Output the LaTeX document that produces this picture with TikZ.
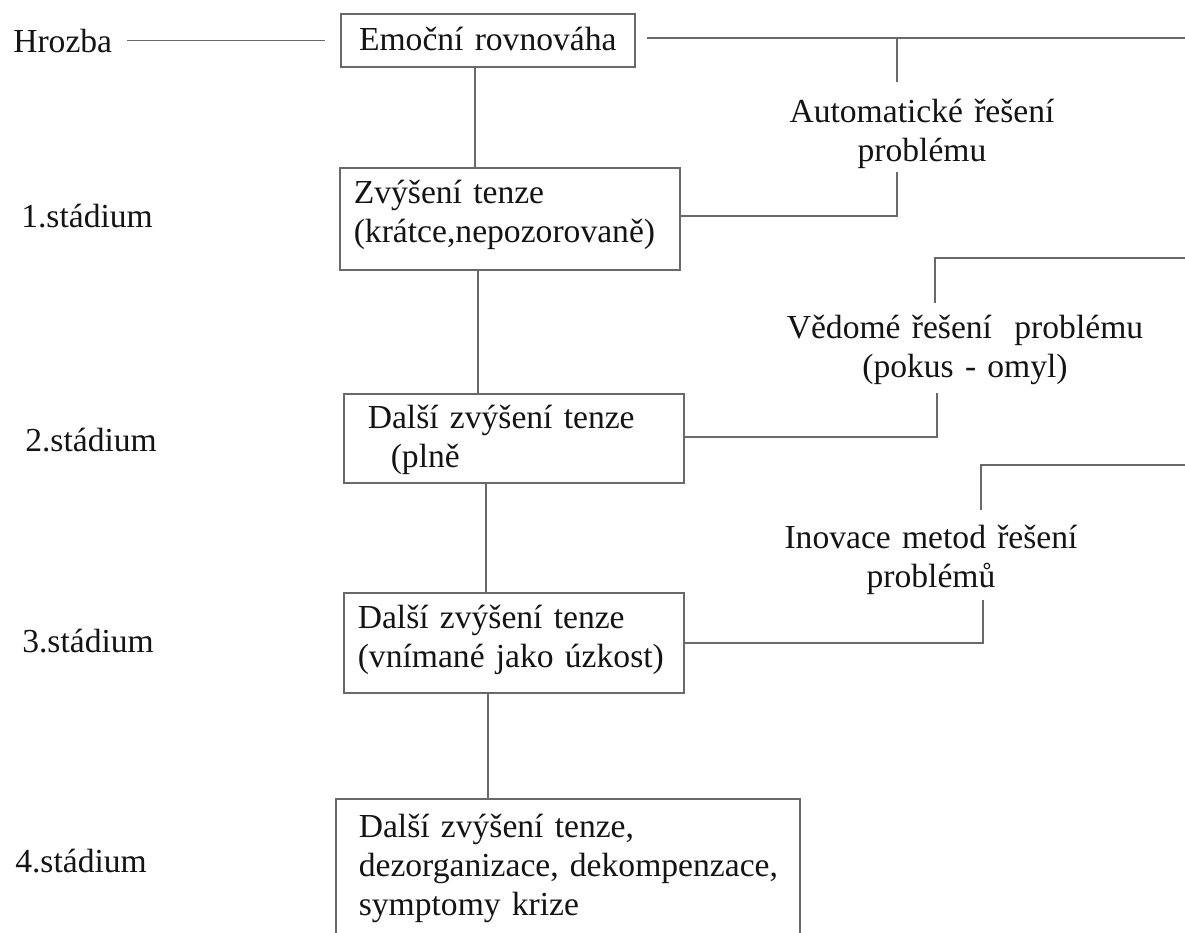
\documentclass[tikz,border=0pt]{standalone}
\usepackage{fontspec}
\setmainfont{Liberation Serif}
\definecolor{linegray}{RGB}{105,105,105}
\definecolor{textblack}{RGB}{20,20,20}
\newcommand\dfont{\fontsize{25.2pt}{29.25pt}\selectfont}
\begin{document}
\begin{tikzpicture}[x=0.75pt,y=-0.75pt,
  conn/.style={draw=linegray,line width=1.2pt},
  box/.style={draw=linegray,line width=1.2pt,anchor=north west,inner ysep=0pt,font=\dfont,text=textblack,align=left},
  lbl/.style={inner sep=0pt,font=\dfont,text=textblack,align=center,anchor=base},
  plain/.style={inner sep=0pt,font=\dfont,text=textblack,anchor=base west}]
\useasboundingbox (0,0) rectangle (1185,932);
\fill[white] (0,0) rectangle (1185,932);
\clip (0,0) rectangle (1185,932);

% stage labels
\node[plain] (H) at (13,52) {Hrozba};
\node[plain] (S1) at (21,227) {1.stádium};
\node[plain] (S2) at (25,451) {2.stádium};
\node[plain] (S3) at (22,652) {3.stádium};
\node[plain] (S4) at (15,872) {4.stádium};

% boxes
\node[box,align=center,inner xsep=0pt,text width=220.5pt,text height=27.75pt,text depth=12pt] (A) at (340,13) {Emoční rovnováha};
\node[box,inner xsep=10.5pt,text width=234pt,text height=27pt,text depth=49.5pt] (B) at (339,167)
  {Zvýšení tenze\\(krátce,nepozorovaně)};
\node[box,inner xsep=18pt,text width=219pt,text height=26.25pt,text depth=40.5pt] (C) at (343,393)
  {Další zvýšení tenze\\\hspace*{17.25pt}(plně};
\node[box,inner xsep=10.5pt,text width=234pt,text height=27pt,text depth=48pt] (D) at (343,592)
  {Další zvýšení tenze\\(vnímané jako úzkost)};
\node[box,inner xsep=17.25pt,text width=313.5pt,text height=29.25pt,text depth=90pt] (E) at (335,798)
  {\mbox{Další zvýšení tenze,}\\\mbox{dezorganizace, dekompenzace,}\\\mbox{symptomy krize}};

% side labels
\node[lbl,text width=225pt,text height=30pt,text depth=37.5pt] (L1) at (922,122)
  {Automatické řešení\\problému};
\node[lbl,text width=285pt,text height=26.25pt,text depth=41.25pt] (L2) at (965,338)
  {Vědomé řešení~ problému\\(pokus - omyl)};
\node[lbl,text width=240pt,text height=28.5pt,text depth=39pt] (L3) at (931,548)
  {Inovace metod řešení\\problémů};

% junction coordinates
\coordinate (r1) at (1185,38);
\coordinate (j1) at (897,38);
\coordinate (j2) at (897,216);
\coordinate (r2) at (1185,258);
\coordinate (j3) at (935,258);
\coordinate (j4) at (937,437);
\coordinate (r3) at (1185,465);
\coordinate (j5) at (981,465);
\coordinate (j6) at (983,643);
\coordinate (v1) at (475,0);
\coordinate (v2) at (478,0);
\coordinate (v3) at (486,0);
\coordinate (v4) at (488,0);

% connectors
\draw[conn,shorten <=11.25pt,shorten >=11.25pt] (H.east) -- (H.east -| A.west);
\draw[conn,shorten <=8.25pt] (A.east |- r1) -- (r1);
\draw[conn] (j1) -- (L1.north -| j1);
\draw[conn] (L1.south -| j2) -- (j2) -- (B.east |- j2);
\draw[conn] (r2) -- (j3) -- (L2.north -| j3);
\draw[conn] (L2.south -| j4) -- (j4) -- (C.east |- j4);
\draw[conn] (r3) -- (j5) -- (L3.north -| j5);
\draw[conn] (L3.south -| j6) -- (j6) -- (D.east |- j6);
\draw[conn] (A.south -| v1) -- (B.north -| v1);
\draw[conn] (B.south -| v2) -- (C.north -| v2);
\draw[conn] (C.south -| v3) -- (D.north -| v3);
\draw[conn] (D.south -| v4) -- (E.north -| v4);
\end{tikzpicture}
\end{document}
